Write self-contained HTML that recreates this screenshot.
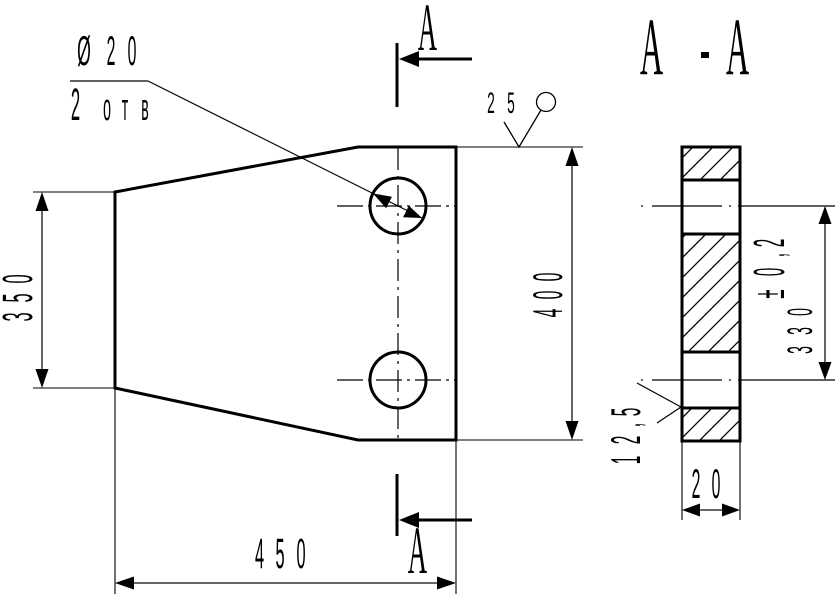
<!DOCTYPE html>
<html><head><meta charset="utf-8"><style>
html,body{margin:0;padding:0;background:#fff;}
svg{display:block;}
text{font-family:"Liberation Sans","Noto Sans CJK SC",sans-serif;fill:#000;}
.s{font-family:"Liberation Serif","Noto Serif CJK SC",serif;}
</style></head><body>
<svg width="838" height="597" viewBox="0 0 838 597" xmlns="http://www.w3.org/2000/svg">
<defs>
<pattern id="h" patternUnits="userSpaceOnUse" width="20" height="20">
<path d="M0,20 L20,0 M-2,2 L2,-2 M18,22 L22,18" stroke="#000" stroke-width="1.3"/>
</pattern>
</defs>

<!-- main outline -->
<polygon points="115,192 358,147 456,147 456,440 358,440 115,388" fill="none" stroke="#000" stroke-width="3" stroke-linejoin="miter"/>

<!-- holes -->
<circle cx="398" cy="206" r="28" fill="none" stroke="#000" stroke-width="3"/>
<circle cx="398" cy="380" r="28" fill="none" stroke="#000" stroke-width="3"/>

<!-- centerlines main -->
<g stroke="#000" stroke-width="1.2" fill="none">
<line x1="337" y1="206" x2="456" y2="206" stroke-dasharray="26 5 3 5"/>
<line x1="337" y1="380" x2="456" y2="380" stroke-dasharray="26 5 3 5"/>
<line x1="398" y1="148" x2="398" y2="440" stroke-dasharray="22 6 3 6"/>
</g>

<!-- extension lines -->
<g stroke="#000" stroke-width="1.1">
<line x1="33" y1="192" x2="115" y2="192"/>
<line x1="33" y1="388" x2="115" y2="388"/>
<line x1="456" y1="147" x2="583" y2="147"/>
<line x1="456" y1="440" x2="583" y2="440"/>
<line x1="115" y1="388" x2="115" y2="594"/>
<line x1="456" y1="440" x2="456" y2="594"/>
<line x1="682" y1="441" x2="682" y2="520"/>
<line x1="740" y1="441" x2="740" y2="520"/>
</g>

<!-- dimension lines -->
<g stroke="#333" stroke-width="1.5">
<line x1="42" y1="196" x2="42" y2="384"/>
<line x1="572" y1="151" x2="572" y2="436"/>
<line x1="119" y1="583" x2="452" y2="583"/>
<line x1="825" y1="210" x2="825" y2="376"/>
<line x1="686" y1="510" x2="736" y2="510"/>
</g>
<g fill="#000">
<polygon points="42,192 35.5,211 48.5,211"/>
<polygon points="42,388 35.5,369 48.5,369"/>
<polygon points="572,147 565.5,166 578.5,166"/>
<polygon points="572,440 565.5,421 578.5,421"/>
<polygon points="115,583 134,576.5 134,589.5"/>
<polygon points="456,583 437,576.5 437,589.5"/>
<polygon points="825,206 818.5,224 831.5,224"/>
<polygon points="825,380 818.5,362 831.5,362"/>
<polygon points="682,510 700,503.5 700,516.5"/>
<polygon points="740,510 722,503.5 722,516.5"/>
</g>

<!-- leader for hole -->
<g stroke="#000" stroke-width="1.2" fill="none">
<line x1="70" y1="81" x2="148" y2="81"/>
<line x1="148" y1="81" x2="422" y2="218"/>
</g>
<polygon points="373,193.5 386.1,208.3 391.9,196.7" fill="#000"/>
<polygon points="422,218 403.1,217.3 408.9,205.7" fill="#000"/>

<!-- roughness symbol -->
<g stroke="#000" stroke-width="1.3" fill="none">
<polyline points="504,122 519,147 541,110"/>
<circle cx="546" cy="102" r="9.5"/>
</g>

<!-- section marks -->
<g stroke="#000" stroke-width="3" fill="none">
<line x1="397" y1="43" x2="397" y2="107"/>
<line x1="410" y1="59" x2="472" y2="59"/>
<line x1="397" y1="474" x2="397" y2="536"/>
<line x1="410" y1="520" x2="472" y2="520"/>
</g>
<polygon points="399,59 419,51 419,67" fill="#000"/>
<polygon points="399,520 419,512 419,528" fill="#000"/>

<!-- section view -->
<rect x="682" y="147" width="58" height="33" fill="url(#h)"/>
<rect x="682" y="234" width="58" height="118" fill="url(#h)"/>
<rect x="682" y="408" width="58" height="33" fill="url(#h)"/>
<g stroke="#000" stroke-width="3" fill="none">
<rect x="682" y="147" width="58" height="294"/>
<line x1="682" y1="180" x2="740" y2="180"/>
<line x1="682" y1="234" x2="740" y2="234"/>
<line x1="682" y1="352" x2="740" y2="352"/>
<line x1="682" y1="408" x2="740" y2="408"/>
</g>
<g stroke="#000" stroke-width="1.2">
<line x1="641" y1="206" x2="643" y2="206"/>
<line x1="652" y1="206" x2="722" y2="206"/>
<line x1="729" y1="206" x2="731" y2="206"/>
<line x1="738" y1="206" x2="835" y2="206"/>
<line x1="641" y1="380" x2="643" y2="380"/>
<line x1="652" y1="380" x2="722" y2="380"/>
<line x1="729" y1="380" x2="731" y2="380"/>
<line x1="738" y1="380" x2="835" y2="380"/>
<line x1="637" y1="383" x2="681" y2="407"/>
<line x1="681" y1="407" x2="657" y2="423"/>
</g>

<!-- texts horizontal -->
<text transform="translate(84,65) scale(0.42,1)" font-size="42" text-anchor="middle">Ø</text>
<text transform="translate(111,65) scale(0.375,1)" font-size="42" text-anchor="middle">2</text>
<text transform="translate(132,65) scale(0.375,1)" font-size="42" text-anchor="middle">0</text>

<text transform="translate(75.5,120) scale(0.37,1)" font-size="45" text-anchor="middle">2</text>
<text transform="translate(107,120) scale(0.37,1)" font-size="38" text-anchor="middle">о</text>
<text transform="translate(125,120) scale(0.37,1)" font-size="38" text-anchor="middle">т</text>
<text transform="translate(145,120) scale(0.37,1)" font-size="38" text-anchor="middle">в</text>

<text transform="translate(491,113) scale(0.46,1)" font-size="30" text-anchor="middle">2</text>
<text transform="translate(511,113) scale(0.46,1)" font-size="30" text-anchor="middle">5</text>

<text transform="translate(259.5,568) scale(0.38,1)" font-size="43" text-anchor="middle">4</text>
<text transform="translate(280,568) scale(0.38,1)" font-size="43" text-anchor="middle">5</text>
<text transform="translate(301,568) scale(0.38,1)" font-size="43" text-anchor="middle">0</text>

<text transform="translate(696,498) scale(0.375,1)" font-size="42" text-anchor="middle">2</text>
<text transform="translate(716,498) scale(0.375,1)" font-size="42" text-anchor="middle">0</text>

<!-- letters A -->
<text class="s" transform="translate(427.5,50) scale(0.39,1)" font-size="68" text-anchor="middle">A</text>
<text class="s" transform="translate(417.5,573) scale(0.39,1)" font-size="68" text-anchor="middle">A</text>
<text class="s" transform="translate(651.5,74) scale(0.39,1)" font-size="82" text-anchor="middle">A</text>
<text class="s" transform="translate(737.5,74) scale(0.39,1)" font-size="82" text-anchor="middle">A</text>
<rect x="701" y="52" width="8" height="6" fill="#000"/>

<!-- rotated texts -->
<text transform="translate(562,313) rotate(-90) scale(0.375,1)" font-size="42" text-anchor="middle">4</text>
<text transform="translate(562,295) rotate(-90) scale(0.375,1)" font-size="42" text-anchor="middle">0</text>
<text transform="translate(562,277) rotate(-90) scale(0.375,1)" font-size="42" text-anchor="middle">0</text>

<text transform="translate(32,317) rotate(-90) scale(0.38,1)" font-size="43" text-anchor="middle">3</text>
<text transform="translate(32,298) rotate(-90) scale(0.38,1)" font-size="43" text-anchor="middle">5</text>
<text transform="translate(32,279) rotate(-90) scale(0.38,1)" font-size="43" text-anchor="middle">0</text>

<text transform="translate(812,350) rotate(-90) scale(0.4,1)" font-size="35" text-anchor="middle">3</text>
<text transform="translate(812,331) rotate(-90) scale(0.4,1)" font-size="35" text-anchor="middle">3</text>
<text transform="translate(812,312) rotate(-90) scale(0.4,1)" font-size="35" text-anchor="middle">0</text>

<text transform="translate(784,294) rotate(-90) scale(0.38,1)" font-size="44" text-anchor="middle">±</text>
<text transform="translate(784,272) rotate(-90) scale(0.34,1)" font-size="44" text-anchor="middle">0</text>
<text transform="translate(784,255) rotate(-90) scale(0.34,1)" font-size="44" text-anchor="middle">,</text>
<text transform="translate(784,243) rotate(-90) scale(0.34,1)" font-size="44" text-anchor="middle">2</text>

<text transform="translate(640,460) rotate(-90) scale(0.365,1)" font-size="42" text-anchor="middle">1</text>
<text transform="translate(640,440) rotate(-90) scale(0.365,1)" font-size="42" text-anchor="middle">2</text>
<text transform="translate(640,425) rotate(-90) scale(0.365,1)" font-size="42" text-anchor="middle">,</text>
<text transform="translate(640,412) rotate(-90) scale(0.365,1)" font-size="42" text-anchor="middle">5</text>
</svg>
</body></html>
